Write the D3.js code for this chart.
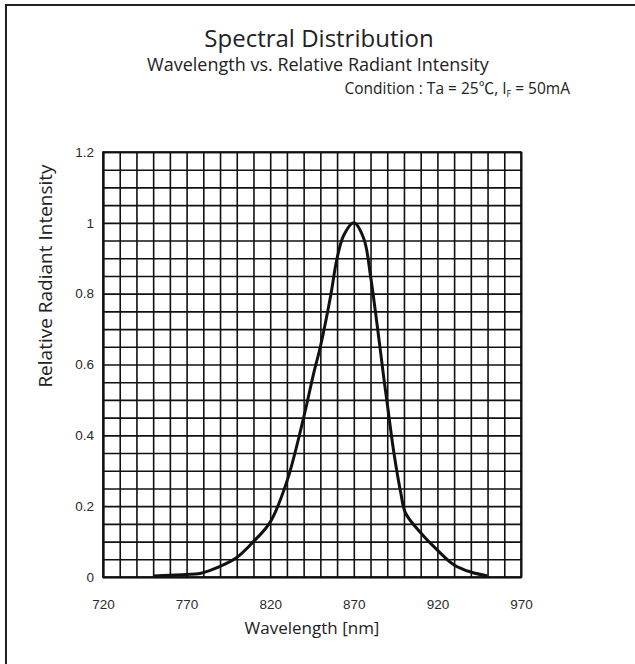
<!DOCTYPE html>
<html>
<head>
<meta charset="utf-8">
<script src="https://cdn.jsdelivr.net/npm/d3@7"></script>
<style>
  body { margin: 0; background: #fff; }
  .tick text { font-family: "Liberation Sans Narrow", "Arial Narrow", sans-serif; font-size: 13.5px; fill: #2a2a2a; }
  .grid line, .grid path { stroke: #111; stroke-width: 1.6; }
  .label { font-family: "Open Sans", Lato, sans-serif; font-weight: 400; fill: #222; }
</style>
</head>
<body>
<script>
// wavelength (nm) and relative intensity
const wavelength = [750, 760, 770, 778, 790, 800, 810, 820, 830, 840, 846, 850, 856, 860, 864, 870,
                    876, 880, 884, 888, 890, 894, 898, 901, 910, 920, 930, 940, 950];
const intensity  = [0.003, 0.005, 0.007, 0.01, 0.03, 0.055, 0.10, 0.155, 0.27, 0.45, 0.575, 0.65, 0.79, 0.9, 0.965, 1.0,
                    0.955, 0.85, 0.71, 0.56, 0.49, 0.35, 0.24, 0.18, 0.125, 0.076, 0.034, 0.014, 0.003];

const xTicks = d3.range(720, 971, 10);
const yTicks = d3.range(0, 24.5, 1).map(i => i * 0.05);
const xLabels = [720, 770, 820, 870, 920, 970];
const yLabels = [0, 0.2, 0.4, 0.6, 0.8, 1, 1.2];

const width = 635, height = 664;
const plot = {left: 103, top: 152, right: 521, bottom: 577};

const svg = d3.select('body').append('svg')
  .attr('width', width)
  .attr('height', height);

// page frame: only top and left edges show
svg.append('path')
  .attr('d', 'M6,664 L6,5 L635,5')
  .attr('fill', 'none')
  .attr('stroke', '#222')
  .attr('stroke-width', 2);

const x = d3.scaleLinear().domain([720, 970]).range([plot.left, plot.right]);
const y = d3.scaleLinear().domain([0, 1.2]).range([plot.bottom, plot.top]);

const isLabelX = v => xLabels.includes(v);
const isLabelY = v => yLabels.some(l => Math.abs(l - v) < 1e-6);

svg.append('g').attr('class', 'grid')
  .attr('transform', 'translate(0,' + plot.bottom + ')')
  .call(d3.axisBottom(x).tickValues(xTicks).tickSize(-(plot.bottom - plot.top)).tickPadding(22)
    .tickFormat(v => isLabelX(v) ? v : ''));

svg.append('g').attr('class', 'grid')
  .attr('transform', 'translate(' + plot.left + ',0)')
  .call(d3.axisLeft(y).tickValues(yTicks).tickSize(-(plot.right - plot.left)).tickPadding(9)
    .tickFormat(v => isLabelY(v) ? d3.format('~g')(+v.toFixed(2)) : ''));

// close the box on top and right
svg.append('rect')
  .attr('x', plot.left).attr('y', plot.top)
  .attr('width', plot.right - plot.left).attr('height', plot.bottom - plot.top)
  .attr('fill', 'none').attr('stroke', '#111').attr('stroke-width', 1.6);

const line = d3.line()
  .x((d, i) => x(wavelength[i]))
  .y(d => y(d))
  .curve(d3.curveCatmullRom.alpha(0.5));

svg.append('path')
  .datum(intensity)
  .attr('d', line)
  .attr('fill', 'none')
  .attr('stroke', '#111')
  .attr('stroke-width', 3)
  .attr('stroke-linejoin', 'round');

// titles
svg.append('text').attr('class', 'label')
  .attr('x', 319).attr('y', 47)
  .attr('text-anchor', 'middle').style('font-size', '24px')
  .text('Spectral Distribution');

svg.append('text').attr('class', 'label')
  .attr('x', 318).attr('y', 71)
  .attr('text-anchor', 'middle').style('font-size', '18px')
  .text('Wavelength vs. Relative Radiant Intensity');

const cond = svg.append('text').attr('class', 'label')
  .attr('x', 570).attr('y', 94)
  .attr('text-anchor', 'end').style('font-size', '15.5px');
cond.append('tspan').text('Condition : Ta = 25');
cond.append('tspan').style('font-family', '"Noto Sans CJK JP", "Open Sans", sans-serif').text('\u2103');
cond.append('tspan').text(', I');
cond.append('tspan').attr('dy', 3).style('font-size', '9px').text('F');
cond.append('tspan').attr('dy', -3).text(' = 50mA');

svg.append('text').attr('class', 'label')
  .attr('x', 312).attr('y', 634)
  .attr('text-anchor', 'middle').style('font-size', '17px')
  .text('Wavelength [nm]');

svg.append('text').attr('class', 'label')
  .attr('transform', 'translate(52,276) rotate(-90)')
  .attr('text-anchor', 'middle').style('font-size', '19px')
  .text('Relative Radiant Intensity');
</script>
</body>
</html>
